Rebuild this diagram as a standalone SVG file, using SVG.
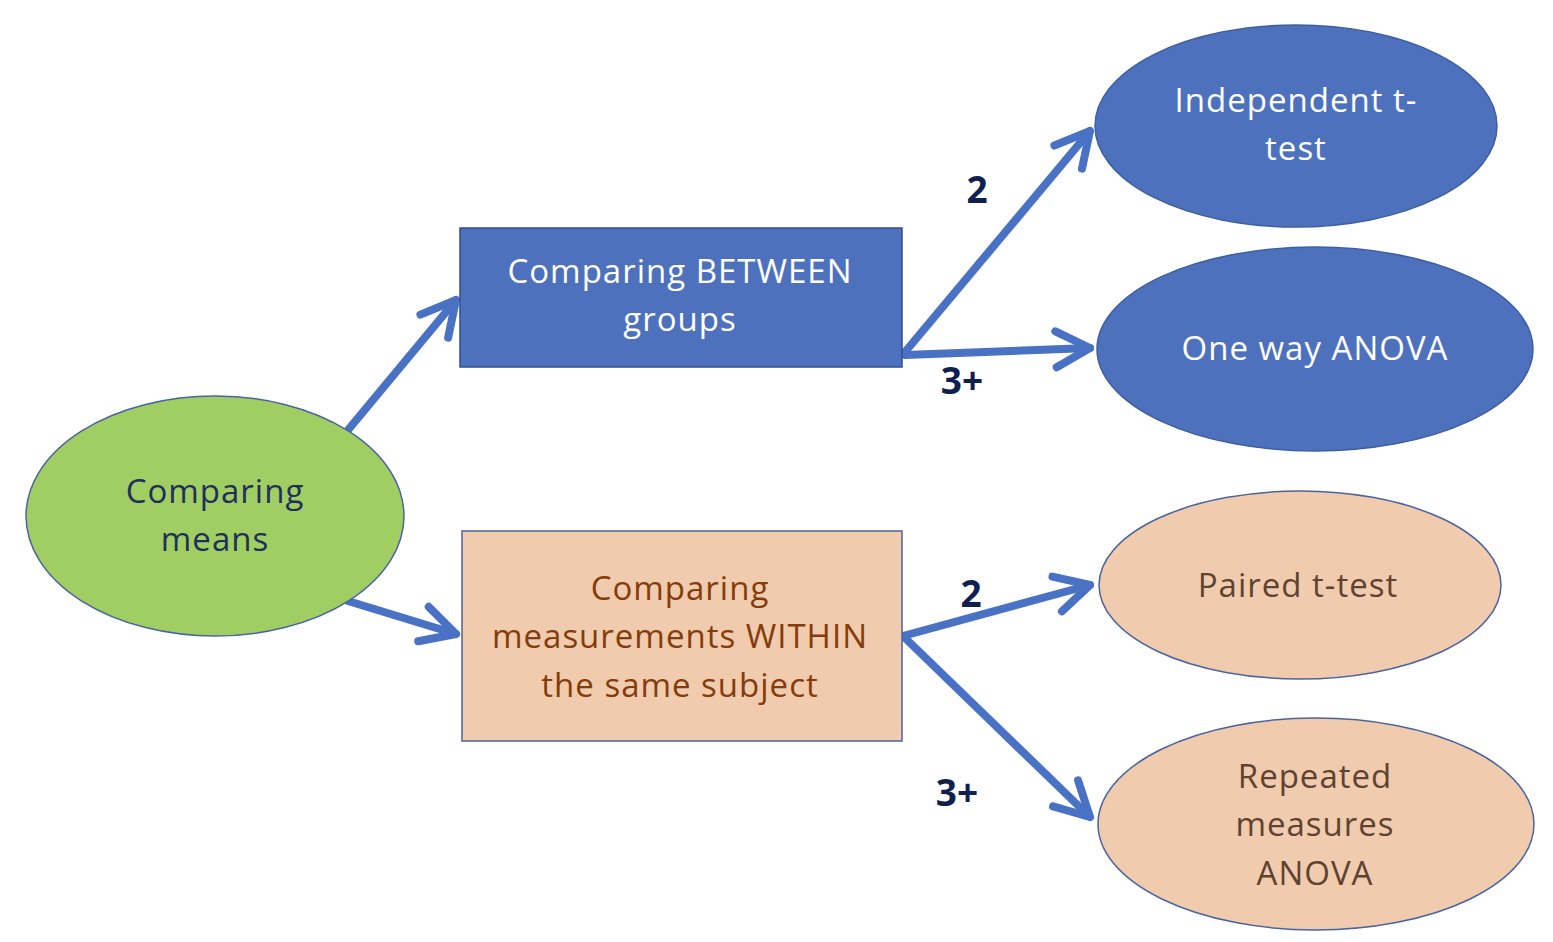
<svg xmlns="http://www.w3.org/2000/svg" width="1553" height="942" viewBox="0 0 1553 942">
<defs>
<marker id="ah" markerUnits="userSpaceOnUse" orient="auto" markerWidth="60" markerHeight="60" refX="0" refY="0" viewBox="-40 -30 50 60" overflow="visible">
<path d="M -34 -18 L 0 0 L -34 18" fill="none" stroke="#4A72C4" stroke-width="8" stroke-linecap="round" stroke-linejoin="round"/>
</marker>
<style>
.t{font-family:"Open Sans","Liberation Sans",sans-serif;font-size:33px;letter-spacing:1px;text-anchor:middle}
.w{fill:#ffffff}
.n{fill:#1F2F5C}
.b{fill:#843C0C}
.g{fill:#5E4332}
.lbl{font-family:"Open Sans","Liberation Sans",sans-serif;font-size:37px;font-weight:bold;fill:#0F1F4F;text-anchor:middle}
.c{fill:none;stroke:#4A72C4;stroke-width:8;stroke-linecap:round;marker-end:url(#ah)}
.eb{fill:#4E71BE;stroke:#3E5F9F;stroke-width:1.5}
.ep{fill:#F1CBAD;stroke:#4A64A0;stroke-width:1.5}
</style>
</defs>
<rect width="1553" height="942" fill="#ffffff"/>
<g id="connectors">
<line class="c" x1="348" y1="430" x2="456" y2="300"/>
<line class="c" x1="348" y1="601" x2="456" y2="634"/>
<line class="c" x1="905" y1="352" x2="1090" y2="131"/>
<line class="c" x1="905" y1="355" x2="1090" y2="348"/>
<line class="c" x1="903" y1="636" x2="1090" y2="585"/>
<line class="c" x1="903" y1="636" x2="1090" y2="817"/>
<text class="lbl" x="977" y="203">2</text>
<text class="lbl" x="962" y="394">3+</text>
<text class="lbl" x="971" y="607">2</text>
<text class="lbl" x="957" y="806">3+</text>
</g>
<g id="comparing-means">
<ellipse cx="215" cy="516" rx="189" ry="120" fill="#A0CE63" stroke="#4A64A0" stroke-width="1.5"/>
<text class="t n" x="215" y="503">Comparing</text>
<text class="t n" x="215" y="551">means</text>
</g>
<g id="between">
<rect x="460" y="228" width="442" height="139" fill="#4E71BE" stroke="#2F4F8F" stroke-width="1.5"/>
<text class="t w" x="680" y="283">Comparing BETWEEN</text>
<text class="t w" x="680" y="331">groups</text>
</g>
<g id="within">
<rect x="462" y="531" width="440" height="210" fill="#F1CBAD" stroke="#4A64A0" stroke-width="1.5"/>
<text class="t b" x="680" y="600">Comparing</text>
<text class="t b" x="680" y="648">measurements WITHIN</text>
<text class="t b" x="680" y="697">the same subject</text>
</g>
<g id="independent">
<ellipse class="eb" cx="1296" cy="126" rx="201" ry="101"/>
<text class="t w" x="1296" y="112">Independent t-</text>
<text class="t w" x="1296" y="160">test</text>
</g>
<g id="oneway">
<ellipse class="eb" cx="1315" cy="349" rx="218" ry="102"/>
<text class="t w" x="1315" y="360">One way ANOVA</text>
</g>
<g id="paired">
<ellipse class="ep" cx="1300" cy="585" rx="201" ry="94"/>
<text class="t g" x="1298" y="597">Paired t-test</text>
</g>
<g id="repeated">
<ellipse class="ep" cx="1316" cy="824" rx="218" ry="106"/>
<text class="t g" x="1315" y="788">Repeated</text>
<text class="t g" x="1315" y="836">measures</text>
<text class="t g" x="1315" y="885">ANOVA</text>
</g>
</svg>
